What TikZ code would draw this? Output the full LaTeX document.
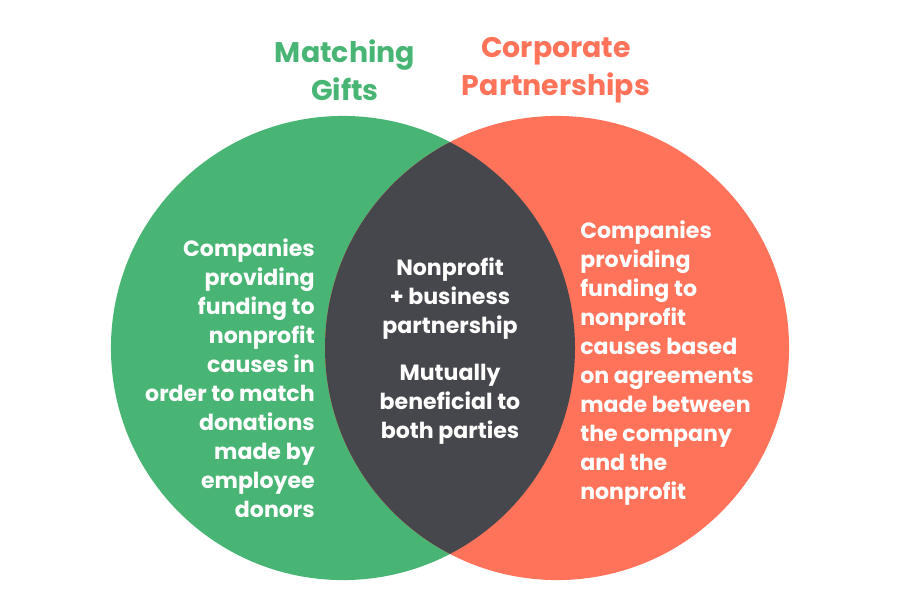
\documentclass[tikz,border=0pt]{standalone}
\usepackage{fontspec}
\setmainfont{Poppins}
\definecolor{giftgreen}{HTML}{48B574}
\definecolor{corpred}{HTML}{FF735A}
\definecolor{overlap}{HTML}{46474C}

\begin{document}
\begin{tikzpicture}[x=0.025cm,y=-0.025cm,c/.style={circle,inner sep=0pt,minimum size=11.6cm},t/.style={font=\fontsize{15.7}{20.6}\selectfont\bfseries,text=white,inner sep=0pt},h/.style={font=\fontsize{20.2}{27}\selectfont\bfseries,align=center,inner sep=0pt}]
\useasboundingbox (0,0) rectangle (900,600);
\node[c,fill=giftgreen](gifts) at (343,348){};
\node[c,fill=corpred](partner) at (557,348){};
\begin{scope}
\clip (gifts.center) circle[radius=232];
\fill[overlap] (partner.center) circle[radius=232];
\end{scope}
\node[h,text=giftgreen](giftstitle) at (345,70){Matching\\Gifts};
\node[h,text=corpred](partnertitle) at (556,70){Corporate\\Partnerships};
\node[t,align=right,anchor=east](gifttext) at (315,378){Companies\\providing\\funding to\\nonprofit\\causes in\\order to match\\donations\\made by\\employee\\donors};
\node[t,align=center](bothtext) at (450,351){Nonprofit\\+ business\\partnership\\[4.5mm]Mutually\\beneficial to\\both parties};
\node[t,align=left,anchor=west](partnertext) at (580,363){Companies\\providing\\funding to\\nonprofit\\causes based\\on agreements\\made between\\the company\\and the\\nonprofit};
\end{tikzpicture}
\end{document}
